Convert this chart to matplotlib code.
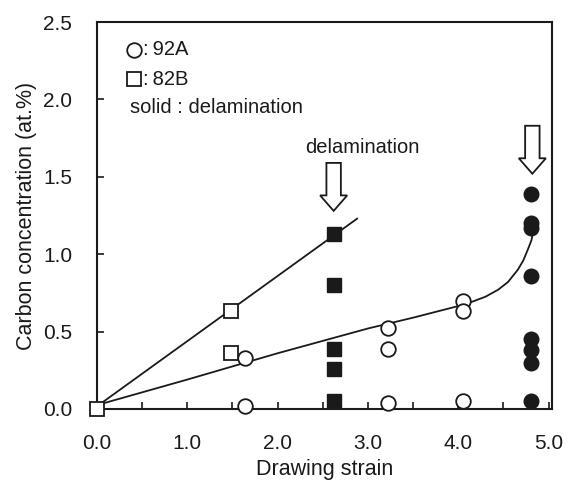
import matplotlib.pyplot as plt
from matplotlib.patches import FancyArrow

plt.rcParams['font.family'] = ['Liberation Sans', 'DejaVu Sans']

# 92A (circles) - open: no delamination
a_open_x = [1.64, 1.64, 3.22, 3.22, 3.22, 4.05, 4.05, 4.05]
a_open_y = [0.33, 0.02, 0.52, 0.39, 0.04, 0.70, 0.63, 0.05]
# 92A - solid: delamination
a_solid_x = [4.80, 4.80, 4.80, 4.80, 4.80, 4.80, 4.80, 4.80]
a_solid_y = [1.39, 1.20, 1.17, 0.86, 0.45, 0.38, 0.30, 0.05]
# 82B (squares) - open
b_open_x = [0.0, 1.48, 1.48]
b_open_y = [0.0, 0.63, 0.36]
# 82B - solid: delamination
b_solid_x = [2.62, 2.62, 2.62, 2.62, 2.62]
b_solid_y = [1.13, 0.80, 0.39, 0.26, 0.05]

# trend lines
b_line_x = [0.03, 2.88]
b_line_y = [0.03, 1.23]
a_curve_x = [0.03, 1.0, 2.0, 3.0, 3.5, 4.0, 4.14, 4.3, 4.44, 4.55, 4.66, 4.72, 4.77, 4.81, 4.83]
a_curve_y = [0.03, 0.19, 0.36, 0.52, 0.59, 0.665, 0.69, 0.725, 0.77, 0.82, 0.90, 0.96, 1.03, 1.09, 1.15]

ink = '#1a1a1a'

fig = plt.figure(figsize=(5.69, 4.8), dpi=100)
ax = fig.add_axes([0.1705, 0.148, 0.80, 0.806])

ax.plot(b_line_x, b_line_y, color=ink, lw=1.3, zorder=1)
ax.plot(a_curve_x, a_curve_y, color=ink, lw=1.3, zorder=1)

ms = 10.5
ax.plot(a_open_x, a_open_y, 'o', ms=ms, mfc='white', mec=ink, mew=1.3, clip_on=False, zorder=3)
ax.plot(a_solid_x, a_solid_y, 'o', ms=ms, mfc=ink, mec=ink, clip_on=False, zorder=3)
ax.plot(b_open_x, b_open_y, 's', ms=ms, mfc='white', mec=ink, mew=1.3, clip_on=False, zorder=3)
ax.plot(b_solid_x, b_solid_y, 's', ms=ms, mfc=ink, mec=ink, clip_on=False, zorder=3)

# hollow block arrows
for x0, ytop in [(2.62, 1.59), (4.82, 1.83)]:
    ax.add_patch(FancyArrow(x0, ytop, 0, -0.31, width=0.16, head_width=0.3,
                            head_length=0.1, length_includes_head=True,
                            fc='white', ec=ink, lw=1.3, zorder=4))
ax.text(2.94, 1.69, 'delamination', ha='center', va='center', fontsize=14.5, color=ink)

# legend-like text
ax.plot([0.41], [2.32], 'o', ms=ms, mfc='white', mec=ink, mew=1.3)
ax.text(0.51, 2.32, ':\u200992A', va='center', fontsize=14.5, color=ink)
ax.plot([0.41], [2.13], 's', ms=ms, mfc='white', mec=ink, mew=1.3)
ax.text(0.51, 2.13, ':\u200982B', va='center', fontsize=14.5, color=ink)
ax.text(0.36, 1.95, 'solid : delamination', va='center', fontsize=14.5, color=ink)

ax.set_xlim(0, 5.04)
ax.set_ylim(0, 2.5)
ax.set_xticks([0, 1, 2, 3, 4, 5])
ax.set_xticklabels(['0.0', '1.0', '2.0', '3.0', '4.0', '5.0'])
ax.set_xticks([0.5, 1.5, 2.5, 3.5, 4.5], minor=True)
ax.set_yticks([0, 0.5, 1.0, 1.5, 2.0, 2.5])
ax.set_yticklabels(['0.0', '0.5', '1.0', '1.5', '2.0', '2.5'])
ax.tick_params(which='both', direction='in', length=5, width=1.2, color=ink,
               labelsize=15, labelcolor=ink)
ax.tick_params(axis='x', pad=18)
ax.tick_params(axis='y', pad=18)
for s in ax.spines.values():
    s.set_linewidth(1.5)
    s.set_color(ink)

ax.set_ylabel('Carbon concentration (at.%)', fontsize=15.5, color=ink, labelpad=4)
ax.set_xlabel('Drawing strain', fontsize=15.5, color=ink, labelpad=4)

fig.savefig('out.png', dpi=100)
